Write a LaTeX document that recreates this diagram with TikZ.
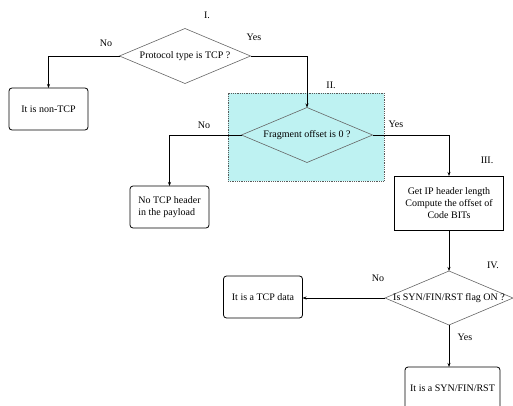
\documentclass[tikz,border=0pt]{standalone}
\usepackage{fontspec}
\setmainfont{Liberation Serif}
\usepackage{tikz}
\usetikzlibrary{shapes.geometric}
\usetikzlibrary{arrows.meta}
\usetikzlibrary{positioning}
\definecolor{fragcyan}{RGB}{190,242,242}

\begin{document}
\begin{tikzpicture}[
	x=1pt,y=-1pt,
	font=\normalsize
]
\tikzset{
    decision/.style = {diamond, draw=gray!80!black, line width=0.6pt, minimum width=131pt, minimum height=55pt, inner sep=0pt, outer sep=0pt},
    endbox/.style = {rectangle, rounded corners=3pt, draw=black, line width=0.8pt, minimum width=79pt, minimum height=42pt, align=center, outer sep=0pt},
    stepbox/.style = {rectangle, draw=black, line width=0.8pt, minimum width=109pt, minimum height=54pt, align=center, outer sep=0pt},
    region/.style = {rectangle, fill=fragcyan, draw=gray!70!black, densely dotted, line width=0.8pt, minimum width=156pt, minimum height=88pt, inner sep=0pt},
    flow/.style = {-{Stealth[length=4pt,width=3pt]}, line width=0.6pt},
    tag/.style = {inner sep=0pt}
}
\useasboundingbox (0,0) rectangle (513,406);
% step I
\node[tag] (numI) at (207,15) {I.};
\node[decision,label=center:{Protocol type is TCP ?}] (tcpq) at (185,56) {};
\node[endbox] (nontcp) at (48.5,109) {It is non-TCP};
\node[tag] (noI) at (106,43) {No};
\node[tag] (yesI) at (254,37) {Yes};
% step II
\node[region] (frag) at (306,137) {};
\node[tag] (numII) at (331,85) {II.};
\node[decision,label=center:{Fragment offset is 0 ?}] (fragq) at (307,135) {};
\node[endbox,align=left] (nohdr) at (169.5,207) {No TCP header\\in the payload};
\node[tag] (noII) at (204,125) {No};
\node[tag] (yesII) at (396,124) {Yes};
% step III
\node[tag] (numIII) at (487,160) {III.};
\node[stepbox] (getip) at (449,203) {Get IP header length\\Compute the offset of\\Code BITs};
% step IV
\node[tag] (numIV) at (493,265) {IV.};
\node[decision,minimum width=128pt,minimum height=54pt,label=center:{Is SYN/FIN/RST flag ON ?}] (flagq) at (449,298) {};
\node[endbox] (tcpdata) at (263,297) {It is a TCP data};
\node[endbox,minimum width=95pt] (synfin) at (452.5,388) {It is a SYN/FIN/RST};
\node[tag] (noIV) at (378,278) {No};
\node[tag] (yesIV) at (465,337) {Yes};
% connectors
\draw[flow] (tcpq.west) -| (nontcp.north);
\draw[flow] (tcpq.east) -| (fragq.north);
\draw[flow] (fragq.west) -| (nohdr.north);
\draw[flow] (fragq.east) -| (getip.north);
\draw[flow] (getip.south) -- (flagq.north);
\draw[flow] (flagq.west) -- (flagq.west -| tcpdata.east);
\draw[flow] (flagq.south) -- (flagq.south |- synfin.north);
\end{tikzpicture}
\end{document}
